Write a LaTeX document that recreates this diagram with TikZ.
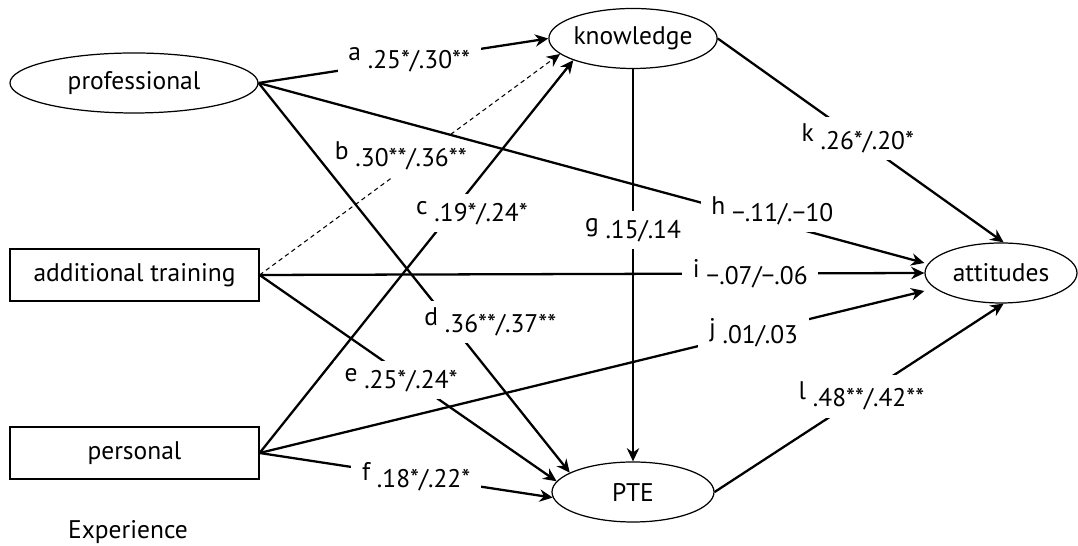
\documentclass[tikz,border=0pt]{standalone}
\usepackage{fontspec}
\setmainfont{PT Sans}
\usetikzlibrary{arrows.meta,shapes.geometric}
\tikzset{
  latent/.style={draw,ellipse,line width=0.7pt,inner sep=0pt,minimum height=1.2cm},
  observed/.style={draw,rectangle,line width=0.7pt,minimum width=4.98cm,minimum height=1.04cm},
  effect/.style={-{Stealth[length=7.5pt,width=7pt]},line width=1.3pt},
  weakeffect/.style={effect,line width=0.6pt,dash pattern=on 2.5pt off 2pt},
  coef/.style={fill=white,inner xsep=6pt,inner ysep=4pt}
}
\newcommand{\coeftext}[2]{\raisebox{.28em}{#1} #2}

\begin{document}
\begin{tikzpicture}[every node/.style={font=\fontsize{14.5}{17}\selectfont}]
  \useasboundingbox (0,0) rectangle (21.56,10.92);
  \node[latent,minimum width=4.96cm] (prof) at (2.68,9.26) {professional};
  \node[latent,minimum width=3.24cm] (know) at (12.66,10.15) {knowledge};
  \node[observed] (train) at (2.69,5.42) {additional training};
  \node[observed] (pers) at (2.69,1.86) {personal};
  \node[latent,minimum width=3.04cm] (att) at (20.02,5.46) {attitudes};
  \node[latent,minimum width=3.24cm] (pte) at (12.66,1.08) {PTE};
  \node[anchor=base] (exp) at (2.56,0.15) {Experience};

  \draw[effect] (prof.east) -- node[coef,pos=.52] (la) {\coeftext{a}{.25*/.30**}} (know.west);
  \draw[weakeffect] (train.east) -- node[coef,pos=.54,xshift=-.42cm] (lb) {\coeftext{b}{.30**/.36**}} (know.192);
  \draw[effect] (pers.east) -- node[coef,pos=.61,xshift=.42cm] (lc) {\coeftext{c}{.19*/.24*}} (know.200);
  \draw[effect] (prof.east) -- node[coef,pos=.613,xshift=.82cm] (ld) {\coeftext{d}{.36**/.37**}} (pte.163);
  \draw[effect] (train.east) -- node[coef,pos=.51,xshift=-.2cm] (le) {\coeftext{e}{.25*/.24*}} (pte.172);
  \draw[effect] (pers.east) -- node[coef,pos=.534] (lf) {\coeftext{f}{.18*/.22*}} (pte.184);
  \draw[effect] (know.south) -- node[coef,pos=.41] (lg) {\coeftext{g}{.15/.14}} (pte.north);
  \draw[effect] (prof.east) -- node[coef,pos=.71,xshift=.82cm] (lh) {\coeftext{h}{−.11/.−10}} ([yshift=.2cm]att.west);
  \draw[effect] (train.east) -- node[coef,pos=.738] (li) {\coeftext{i}{−.07/−.06}} (att.west);
  \draw[effect] (pers.east) -- node[coef,pos=.743] (lj) {\coeftext{j}{.01/.03}} ([yshift=-.36cm]att.west);
  \draw[effect] (know.east) -- node[coef,pos=.49] (lk) {\coeftext{k}{.26*/.20*}} (att.85);
  \draw[effect] (pte.east) -- node[coef,pos=.508] (ll) {\coeftext{l}{.48**/.42**}} (att.-85);
\end{tikzpicture}
\end{document}
